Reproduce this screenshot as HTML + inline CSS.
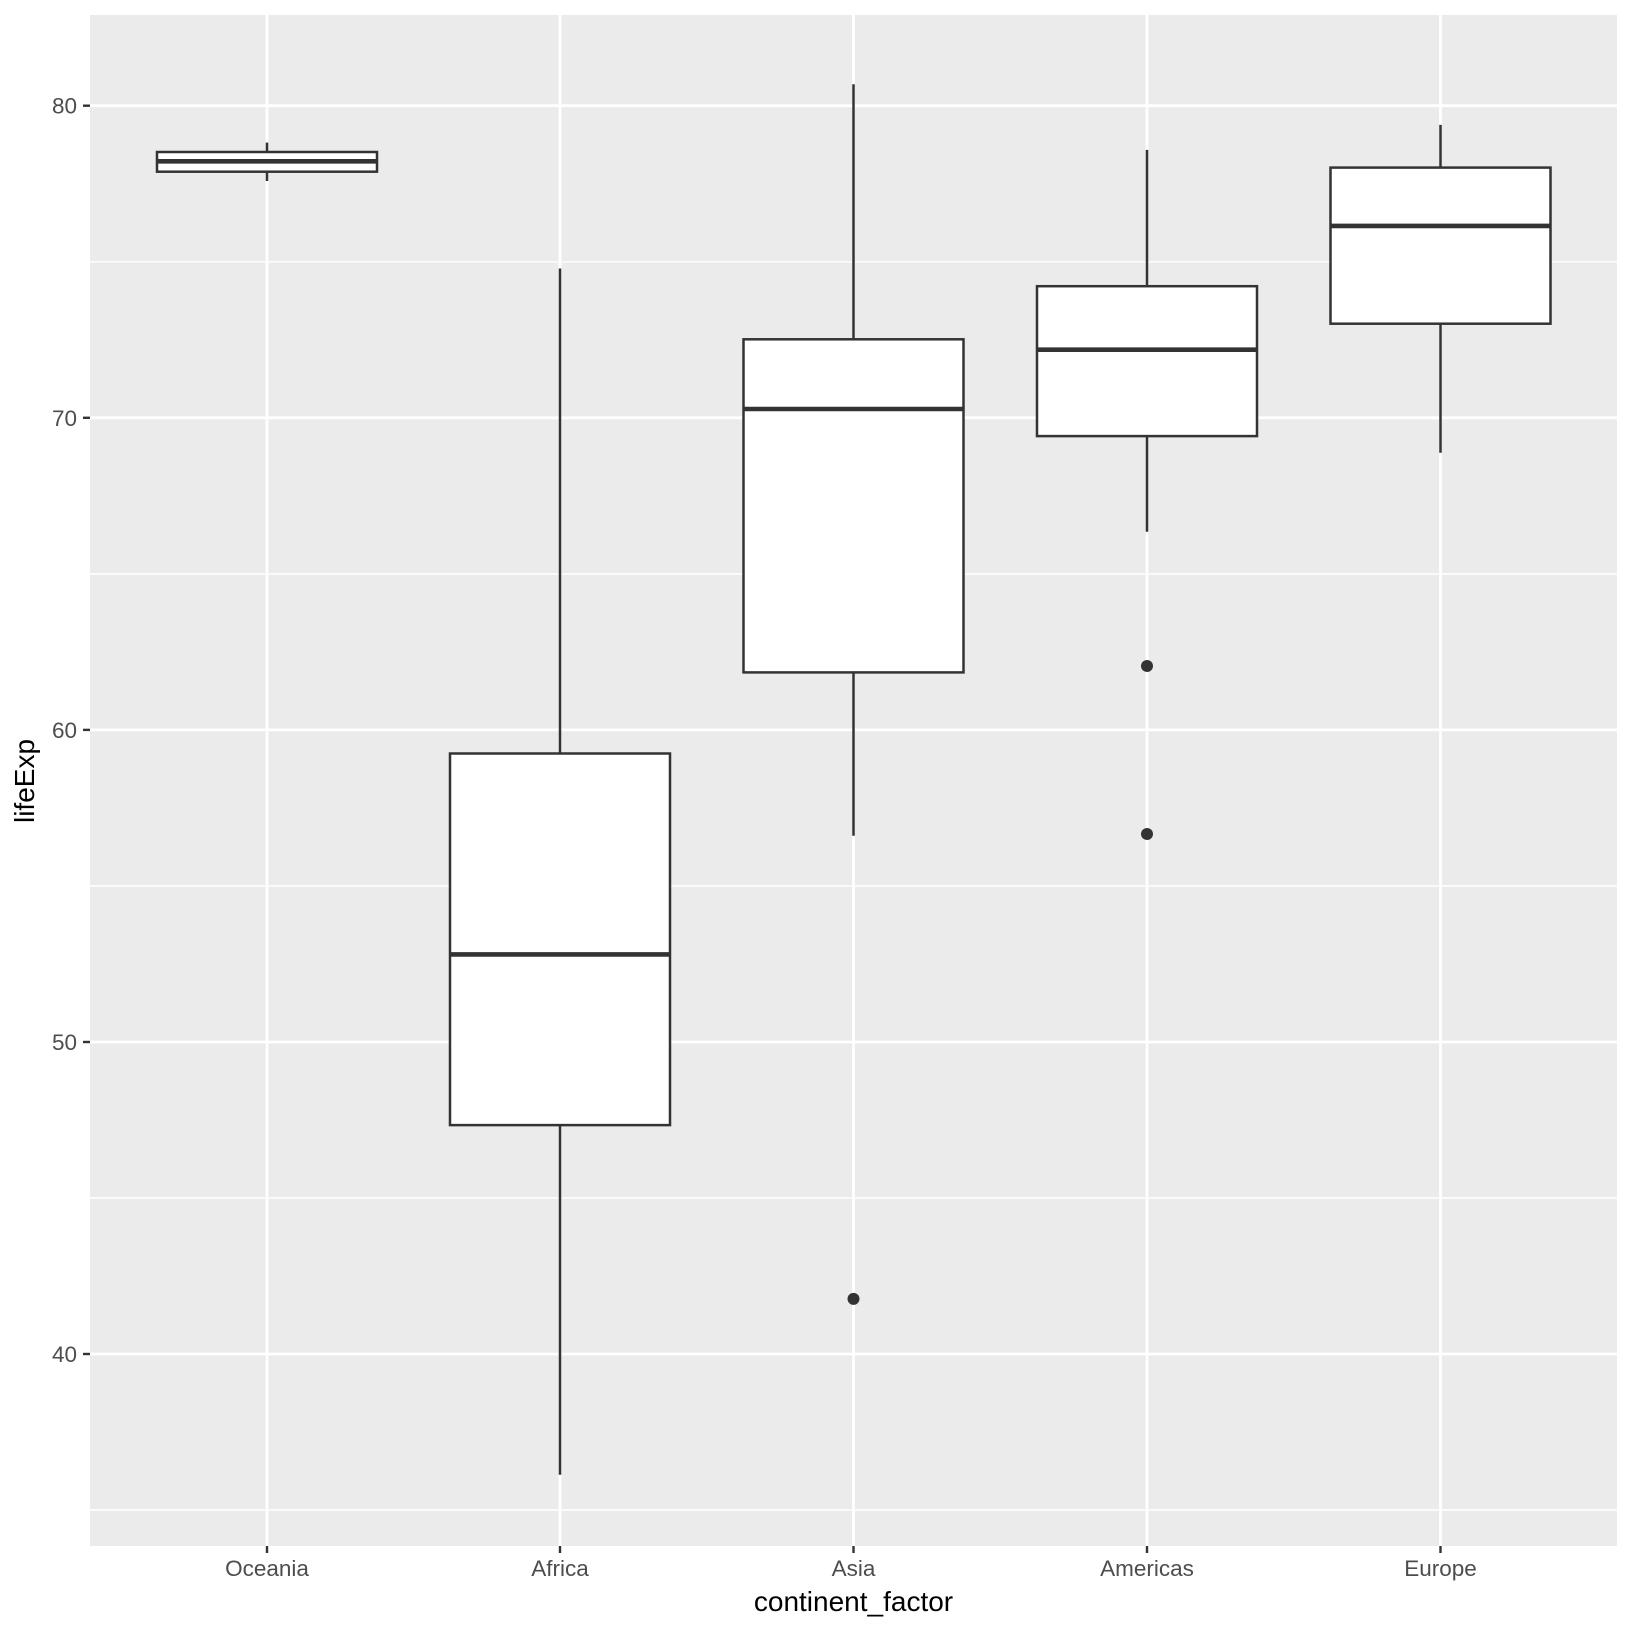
<!DOCTYPE html>
<html><head><meta charset="utf-8"><style>html,body{margin:0;padding:0;background:#fff;overflow:hidden}svg{display:block}</style></head>
<body>
<svg width="1632" height="1632" xmlns="http://www.w3.org/2000/svg" font-family="Liberation Sans, Arial, sans-serif">
<rect x="0" y="0" width="1632" height="1632" fill="#fff"/>
<rect x="90" y="15" width="1527" height="1531" fill="#ebebeb"/>
<g stroke="#fff" stroke-width="1.4">
<line x1="90" x2="1617" y1="261.8" y2="261.8"/>
<line x1="90" x2="1617" y1="574" y2="574"/>
<line x1="90" x2="1617" y1="886" y2="886"/>
<line x1="90" x2="1617" y1="1198" y2="1198"/>
<line x1="90" x2="1617" y1="1510" y2="1510"/>
</g>
<g stroke="#fff" stroke-width="2.8">
<line x1="90" x2="1617" y1="105.7" y2="105.7"/>
<line x1="90" x2="1617" y1="417.8" y2="417.8"/>
<line x1="90" x2="1617" y1="729.9" y2="729.9"/>
<line x1="90" x2="1617" y1="1042" y2="1042"/>
<line x1="90" x2="1617" y1="1354" y2="1354"/>
<line y1="15" y2="1546" x1="267" x2="267"/>
<line y1="15" y2="1546" x1="560" x2="560"/>
<line y1="15" y2="1546" x1="853.5" x2="853.5"/>
<line y1="15" y2="1546" x1="1147" x2="1147"/>
<line y1="15" y2="1546" x1="1440.5" x2="1440.5"/>
</g>
<g stroke="#333" stroke-width="2.5" fill="#fff">
<line x1="267" x2="267" y1="142.6" y2="181"/>
<rect x="157" y="152" width="220" height="19.7"/>
<line x1="157" x2="377" y1="161.3" y2="161.3" stroke-width="4.6"/>
<line x1="560" x2="560" y1="268.5" y2="1474.8"/>
<rect x="450" y="753.5" width="220" height="371.6"/>
<line x1="450" x2="670" y1="954.4" y2="954.4" stroke-width="4.6"/>
<line x1="853.5" x2="853.5" y1="84.3" y2="835.8"/>
<rect x="743.5" y="339.3" width="220" height="333.1"/>
<line x1="743.5" x2="963.5" y1="409" y2="409" stroke-width="4.6"/>
<line x1="1147" x2="1147" y1="149.9" y2="531.8"/>
<rect x="1037" y="286.2" width="220" height="149.9"/>
<line x1="1037" x2="1257" y1="349.7" y2="349.7" stroke-width="4.6"/>
<line x1="1440.5" x2="1440.5" y1="124.9" y2="452.7"/>
<rect x="1330.5" y="167.6" width="220" height="156.1"/>
<line x1="1330.5" x2="1550.5" y1="225.9" y2="225.9" stroke-width="4.6"/>
</g>
<g fill="#333">
<circle cx="853.5" cy="1298.9" r="6"/>
<circle cx="1147" cy="666" r="6"/>
<circle cx="1147" cy="834" r="6"/>
</g>
<g stroke="#333" stroke-width="2.4">
<line x1="83" x2="90" y1="105.7" y2="105.7"/>
<line x1="83" x2="90" y1="417.8" y2="417.8"/>
<line x1="83" x2="90" y1="729.9" y2="729.9"/>
<line x1="83" x2="90" y1="1042" y2="1042"/>
<line x1="83" x2="90" y1="1354" y2="1354"/>
<line y1="1546" y2="1553" x1="267" x2="267"/>
<line y1="1546" y2="1553" x1="560" x2="560"/>
<line y1="1546" y2="1553" x1="853.5" x2="853.5"/>
<line y1="1546" y2="1553" x1="1147" x2="1147"/>
<line y1="1546" y2="1553" x1="1440.5" x2="1440.5"/>
</g>
<g fill="#4d4d4d" font-size="22.5" text-anchor="end">
<text x="77" y="113.7">80</text>
<text x="77" y="425.8">70</text>
<text x="77" y="737.9">60</text>
<text x="77" y="1050">50</text>
<text x="77" y="1362">40</text>
</g>
<g fill="#4d4d4d" font-size="22.5" text-anchor="middle">
<text x="267" y="1576">Oceania</text>
<text x="560" y="1576">Africa</text>
<text x="853.5" y="1576">Asia</text>
<text x="1147" y="1576">Americas</text>
<text x="1440.5" y="1576">Europe</text>
</g>
<text x="853.5" y="1611" font-size="28" text-anchor="middle" fill="#000">continent_factor</text>
<text transform="translate(34,781) rotate(-90)" font-size="28" text-anchor="middle" fill="#000">lifeExp</text>
</svg>
</body></html>
